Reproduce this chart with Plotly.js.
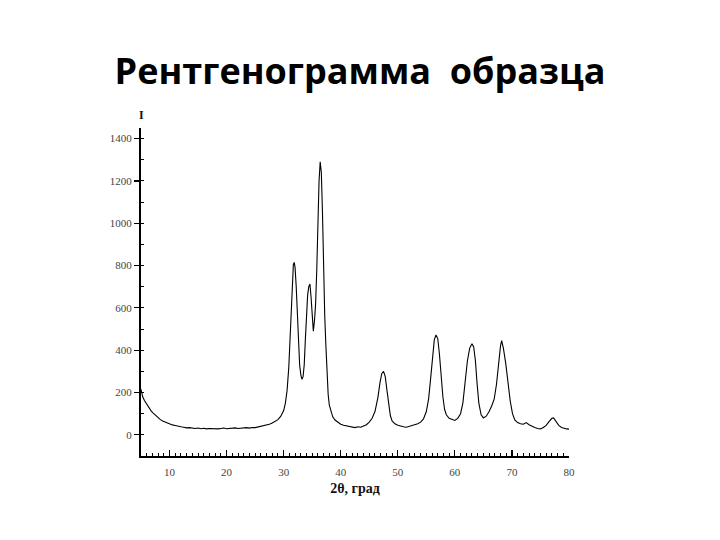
<!DOCTYPE html>
<html>
<head>
<meta charset="utf-8">
<script src="https://cdn.plot.ly/plotly-3.0.1.min.js"></script>
<style>html,body{margin:0;padding:0;background:#fff;}#chart{width:720px;height:540px;}</style>
</head>
<body>
<div id="chart"></div>
<script>
const titleText = "Рентгенограмма  образца";
const xLabel = "2θ, град";
const yLabel = "I";

const twoTheta = [
  5.0,5.3,5.6,5.9,6.2,6.5,6.8,7.1,7.4,7.7,8.0,8.4,8.8,9.2,9.6,10.0,10.5,11.0,11.5,12.0,
  12.5,13.0,13.5,14.0,14.5,15.0,15.5,16.0,16.5,17.0,17.5,18.0,18.5,19.0,19.5,20.0,20.5,21.0,21.5,22.0,
  22.5,23.0,23.5,24.0,24.5,25.0,25.5,26.0,26.5,27.0,27.5,28.0,28.5,29.0,29.5,30.0,30.3,30.6,30.9,31.1,
  31.3,31.5,31.7,31.85,32.0,32.2,32.4,32.6,32.8,33.0,33.2,33.4,33.6,33.8,34.0,34.2,34.4,34.6,34.8,35.0,
  35.2,35.4,35.6,35.8,36.0,36.2,36.4,36.6,36.8,37.0,37.2,37.4,37.6,37.8,38.0,38.3,38.6,39.0,39.5,40.0,
  40.5,41.0,41.5,42.0,42.5,43.0,43.5,44.0,44.5,45.0,45.5,46.0,46.5,46.9,47.2,47.5,47.8,48.1,48.4,48.7,
  49.0,49.5,50.0,50.5,51.0,51.5,52.0,52.5,53.0,53.5,54.0,54.5,55.0,55.4,55.8,56.1,56.4,56.7,57.0,57.3,
  57.6,57.9,58.2,58.5,59.0,59.5,60.0,60.5,61.0,61.4,61.8,62.2,62.6,63.0,63.3,63.6,63.9,64.2,64.6,65.0,
  65.5,66.0,66.5,66.9,67.3,67.7,68.0,68.2,68.5,68.9,69.3,69.7,70.1,70.5,71.0,71.5,72.0,72.5,73.0,73.5,
  74.0,74.5,75.0,75.5,76.0,76.5,77.0,77.3,77.7,78.2,78.7,79.2,79.6,80.0
];
const intensity = [
  215,180,162,148,135,124,112,104,96,88,80,72,65,60,56,51,47,44,40,38,
  36,33,34,31,30,32,29,31,28,30,29,31,28,30,32,29,31,30,33,30,
  32,31,34,32,35,34,37,38,42,45,50,56,64,72,88,115,150,210,320,450,
  600,730,805,815,790,700,560,420,330,285,262,275,330,450,580,660,700,713,650,560,
  490,540,620,780,1000,1200,1290,1240,1050,780,560,420,280,190,140,105,85,70,58,50,
  45,42,38,37,34,38,36,42,48,60,78,110,175,250,290,300,275,210,140,90,
  66,52,45,40,38,36,40,42,47,52,60,75,110,170,280,380,450,472,455,380,
  270,180,120,95,78,72,68,78,100,150,250,350,410,430,415,350,240,150,95,80,
  88,110,140,170,240,350,420,445,410,340,250,160,100,70,58,52,50,58,48,40,
  35,30,28,35,45,62,78,80,65,45,35,30,28,27
];

const xTickVals = [10,20,30,40,50,60,70,80];
const yTickVals = [0,200,400,600,800,1000,1200,1400];

const trace = {
  x: twoTheta, y: intensity, type: 'scatter', mode: 'lines',
  line: {color: '#000', width: 1.1}, hoverinfo: 'skip'
};

const tickFont = {family: 'Liberation Serif, serif', size: 11, color: '#444'};

const layout = {
  width: 720, height: 540,
  margin: {l: 141, r: 151, t: 128, b: 84},
  paper_bgcolor: '#fff', plot_bgcolor: '#fff',
  showlegend: false,
  title: {text: '<b>' + titleText + '</b>', x: 0.5, xref: 'container', xanchor: 'center', y: 1 - 71/540, yref: 'container', yanchor: 'middle',
    font: {family: 'Open Sans, Noto Sans, sans-serif', size: 36, color: '#000'}},
  xaxis: {
    range: [5, 80], showgrid: false, zeroline: false,
    showline: true, linecolor: '#000', linewidth: 2,
    tickmode: 'array', tickvals: xTickVals, ticktext: xTickVals.map(String),
    ticks: 'inside', ticklen: 6, tickwidth: 1.2, tickcolor: '#000',
    minor: {dtick: 1, ticks: 'inside', ticklen: 3, tickcolor: '#000', tickwidth: 1},
    tickfont: tickFont, ticklabelstandoff: 5,
    title: {text: '<b>' + xLabel + '</b>', standoff: 6, font: {family: 'Liberation Serif, serif', size: 14, color: '#111'}}
  },
  yaxis: {
    range: [-100, 1450], showgrid: false, zeroline: false,
    showline: true, linecolor: '#000', linewidth: 2,
    tickmode: 'array', tickvals: yTickVals, ticktext: yTickVals.map(String),
    ticks: 'outside', ticklen: 5, tickwidth: 1.2, tickcolor: '#000',
    minor: {dtick: 100, ticks: 'inside', ticklen: 3, tickcolor: '#000', tickwidth: 1},
    tickfont: tickFont
  },
  annotations: [{
    text: '<b>' + yLabel + '</b>', xref: 'paper', yref: 'paper', x: 0, y: 1.04,
    xanchor: 'center', yanchor: 'middle', showarrow: false,
    font: {family: 'Liberation Serif, serif', size: 12, color: '#111'}
  }]
};

Plotly.newPlot('chart', [trace], layout, {displayModeBar: false, staticPlot: true});
</script>
</body>
</html>
